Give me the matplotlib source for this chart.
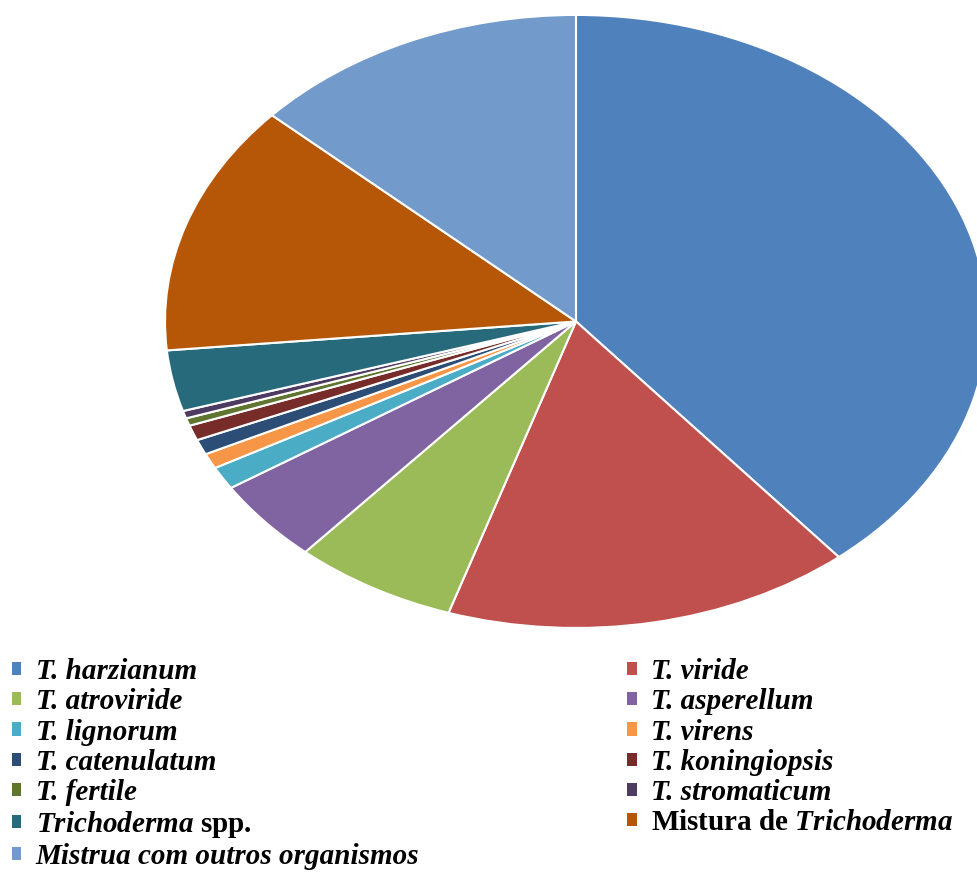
import matplotlib.pyplot as plt
from matplotlib.patches import Patch

plt.rcParams["mathtext.fontset"] = "custom"
plt.rcParams["mathtext.rm"] = "Liberation Serif:bold"
plt.rcParams["mathtext.it"] = "Liberation Serif:italic:bold"
plt.rcParams["font.family"] = "Liberation Serif"
plt.rcParams["font.weight"] = "bold"

# Number of records per group
labels = [
    "T. harzianum",
    "T. viride",
    "T. atroviride",
    "T. asperellum",
    "T. lignorum",
    "T. virens",
    "T. catenulatum",
    "T. koningiopsis",
    "T. fertile",
    "T. stromaticum",
    r"$\mathit{Trichoderma}$ spp.",
    r"Mistura de $\mathit{Trichoderma}$",
    "Mistrua com outros organismos",
]
counts = [97, 40, 16, 11, 3, 2, 2, 2, 1, 1, 8, 33, 33]
colors = [
    "#4F81BD", "#C0504D", "#9BBB59", "#8064A2", "#4BACC6", "#F79646",
    "#2C4D75", "#772C2A", "#5F7530", "#4D3B62", "#276A7C", "#B65708",
    "#729ACA",
]

fig = plt.figure(figsize=(9.77, 8.74), dpi=100)

# elliptical pie: axes stretched wider than tall
ax = fig.add_axes([0.1689, 0.2815, 0.8413, 0.7014])
ax.pie(
    counts,
    colors=colors,
    startangle=90,
    counterclock=False,
    wedgeprops={"edgecolor": "white", "linewidth": 1.5},
)
ax.set_aspect("auto")
ax.set_xlim(-1, 1)
ax.set_ylim(-1, 1)
ax.axis("off")

handles = [Patch(facecolor=c, edgecolor="none") for c in colors]

# legend is filled row by row: even items left, odd items right
left = [0, 2, 4, 6, 8, 10, 12]
right = [1, 3, 5, 7, 9, 11]
leg_kw = dict(
    frameon=False,
    fontsize=21,
    handlelength=0.32,
    handleheight=0.32,
    handletextpad=0.5,
    labelspacing=0.11,
    borderpad=0,
    borderaxespad=0,
    loc="upper left",
)
for idx, x0 in [(left, 0.012), (right, 0.642)]:
    leg = fig.legend([handles[i] for i in idx], [labels[i] for i in idx],
                     bbox_to_anchor=(x0, 0.247), **leg_kw)
    for t in leg.get_texts():
        if "$" not in t.get_text():
            t.set_fontstyle("italic")

plt.savefig("out.png", dpi=100)
